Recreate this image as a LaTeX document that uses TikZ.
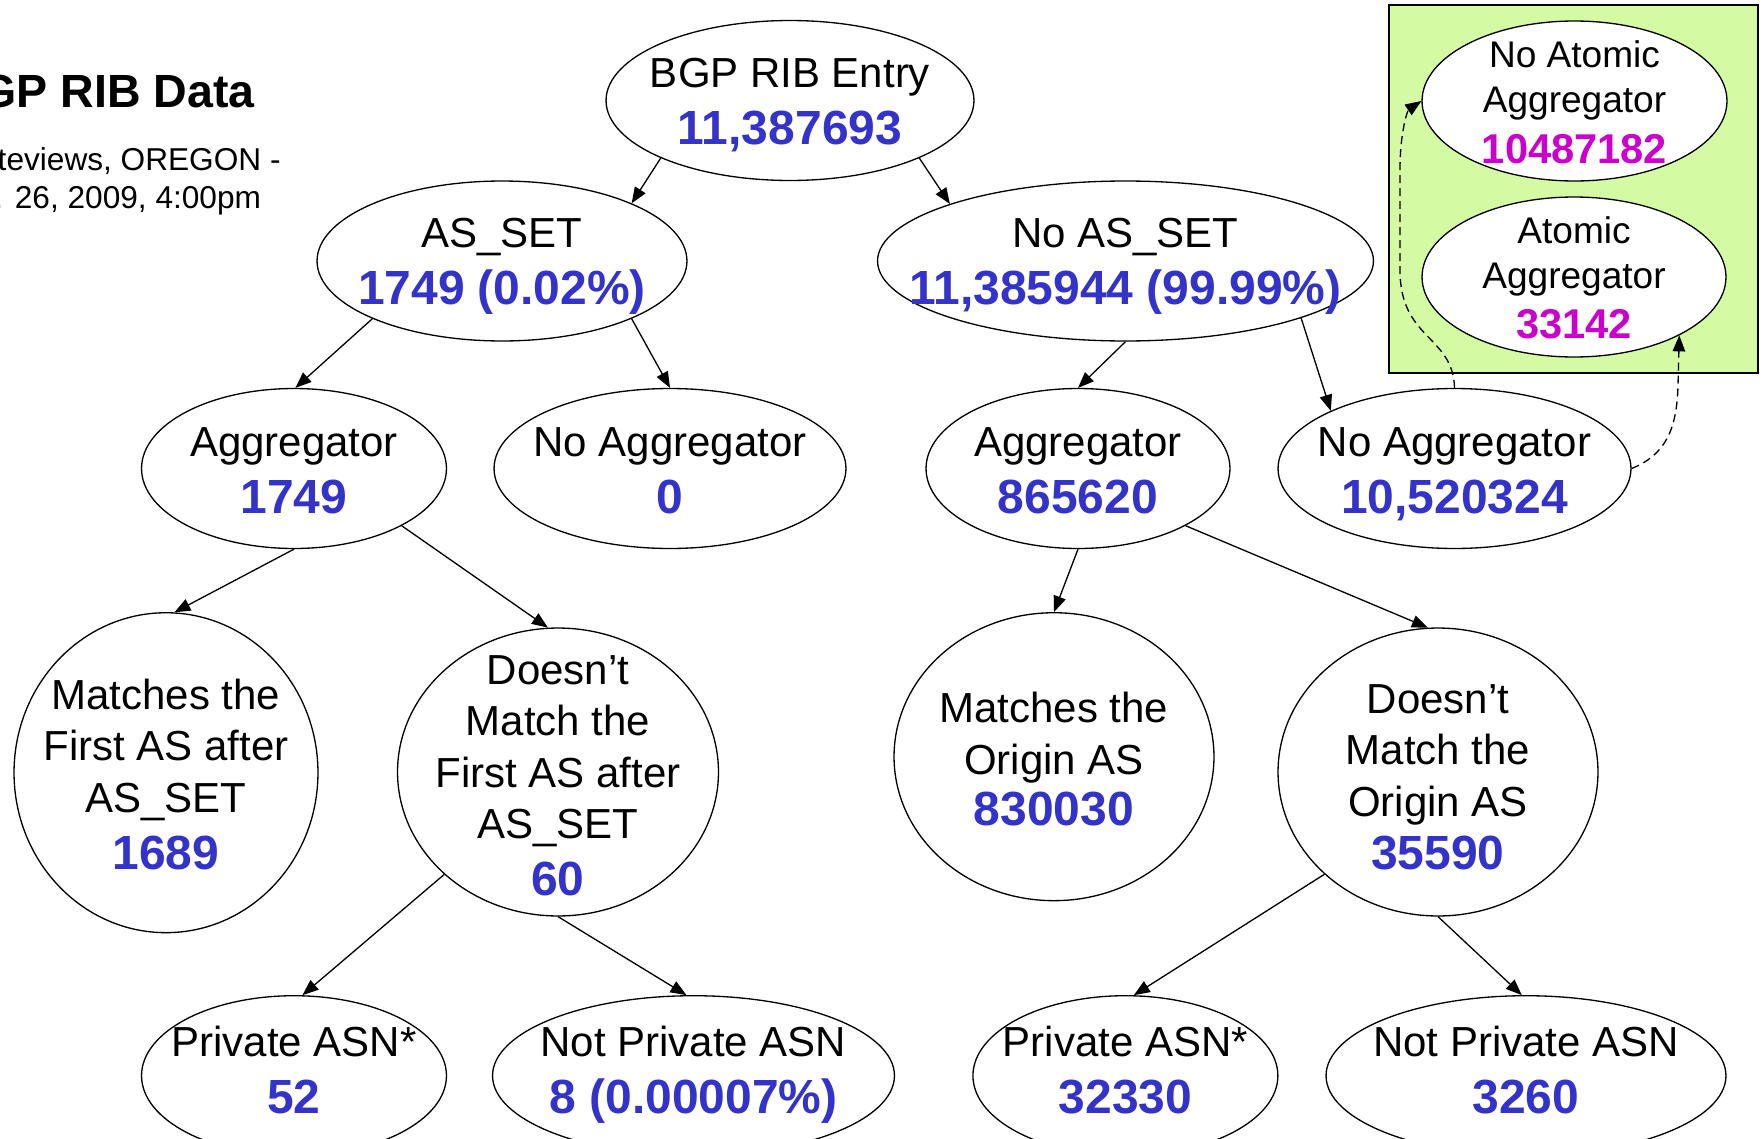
\documentclass[tikz,border=0pt]{standalone}
\usepackage{fontspec}
\setmainfont{Liberation Sans}
\usetikzlibrary{shapes.geometric,arrows.meta}

\definecolor{numblue}{RGB}{51,51,204}
\definecolor{nummag}{RGB}{204,0,204}
\definecolor{boxgreen}{RGB}{212,251,163}

\newcommand{\labfont}{\fontsize{23.9}{29.3}\selectfont}
\newcommand{\boxfont}{\fontsize{21.1}{25.6}\selectfont}
\newcommand{\numline}[2][3.1pt]{\\[#1]{\color{numblue}\bfseries\fontsize{27.3}{32.4}\selectfont #2}}
\newcommand{\boxnum}[1]{\\[3.3pt]{\color{nummag}\bfseries\fontsize{23.7}{28.9}\selectfont #1}}

\tikzstyle{oval} = [ellipse, draw, line width=0.75pt, fill=white, inner sep=0pt, minimum height=3.2cm]
\tikzstyle{txt} = [align=center, inner sep=0pt, font=\labfont, anchor=north]
\tikzstyle{arrow} = [line width=0.75pt, -{Triangle[length=0.32cm,width=0.25cm]}]
\tikzstyle{arrow_dash} = [arrow, dash pattern=on 0.16cm off 0.1cm]

\begin{document}
\begin{tikzpicture}[x=0.02cm, y=-0.02cm]
        \useasboundingbox (0,0) rectangle (1762,1139);
        \clip (0,0) rectangle (1762,1139);

        \node (title) [anchor=base east, inner sep=0pt, font=\fontsize{26.5}{32}\selectfont\bfseries] at (255,107) {BGP RIB Data};
        \node (source) [anchor=base east, inner sep=0pt, font=\fontsize{18}{21.6}\selectfont] at (281,170) {Routeviews, OREGON -};
        \node (date) [anchor=base west, inner sep=0pt, font=\fontsize{18}{21.6}\selectfont] at (-6,208) {. 26, 2009, 4:00pm};

        \draw[fill=boxgreen, line width=1.1pt] (1389,5) rectangle (1758,373);

        \node[oval, minimum width=7.36cm] (bgp) at (790,100.5) {};
        \node[oval, minimum width=7.4cm] (aset) at (502,261) {};
        \node[oval, minimum width=9.92cm] (noaset) at (1125.5,261) {};
        \node[oval, minimum width=6.1cm] (aggL) at (294,468.5) {};
        \node[oval, minimum width=7.04cm] (noaggL) at (670,468.5) {};
        \node[oval, minimum width=6.08cm] (aggR) at (1078,468.5) {};
        \node[oval, minimum width=7.06cm] (noaggR) at (1454.5,468.5) {};
        \node[oval, minimum width=6.08cm, minimum height=6.4cm] (matchL) at (166,772.7) {};
        \node[oval, minimum width=6.42cm, minimum height=5.76cm] (nomatchL) at (558,772) {};
        \node[oval, minimum width=6.4cm, minimum height=5.76cm] (matchR) at (1054,756.7) {};
        \node[oval, minimum width=6.4cm, minimum height=5.76cm] (nomatchR) at (1438,772) {};
        \node[oval, minimum width=6.1cm] (privL) at (294,1075.7) {};
        \node[oval, minimum width=8.04cm] (notprivL) at (693.5,1075.7) {};
        \node[oval, minimum width=6.1cm] (privR) at (1125.4,1075.7) {};
        \node[oval, minimum width=8cm] (notprivR) at (1526,1075.7) {};
        \node[oval, minimum width=6.1cm] (noatomic) at (1574.5,101) {};
        \node[oval, minimum width=6.08cm] (atomic) at (1574,277) {};

        \node[txt] (bgp-t) at (790,57.5) {BGP RIB Entry\numline{11,387693}};
        \node[txt] (aset-t) at (502,218) {AS\_SET\numline{1749 (0.02\%)}};
        \node[txt] (noaset-t) at (1125.5,218) {No AS\_SET\numline{11,385944 (99.99\%)}};
        \node[txt] (aggL-t) at (294,427.5) {Aggregator\numline{1749}};
        \node[txt] (noaggL-t) at (670,427.5) {No Aggregator\numline{0}};
        \node[txt] (aggR-t) at (1078,427.5) {Aggregator\numline{865620}};
        \node[txt] (noaggR-t) at (1454.5,427.5) {No Aggregator\numline{10,520324}};
        \node[txt] (matchL-t) at (166,678.5) {Matches the\\First AS after\\AS\_SET\numline{1689}};
        \node[txt] (nomatchL-t) at (558,655) {Doesn’t\\Match the\\First AS after\\AS\_SET\numline{60}};
        \node[txt] (matchR-t) at (1054,692) {Matches the\\Origin AS\numline[0pt]{830030}};
        \node[txt] (nomatchR-t) at (1438,684) {Doesn’t\\Match the\\Origin AS\numline[0.8pt]{35590}};
        \node[txt] (privL-t) at (294,1025.5) {Private ASN*\numline{52}};
        \node[txt] (notprivL-t) at (693.5,1025.5) {Not Private ASN\numline{8 (0.00007\%)}};
        \node[txt] (privR-t) at (1125.4,1025.5) {Private ASN*\numline{32330}};
        \node[txt] (notprivR-t) at (1526,1025.5) {Not Private ASN\numline{3260}};
        \node[txt, font=\boxfont] (noatomic-t) at (1574.5,40.5) {No Atomic\\Aggregator\boxnum{10487182}};
        \node[txt, font=\boxfont] (atomic-t) at (1574,216) {Atomic\\Aggregator\boxnum{33142}};

        \draw [arrow] (bgp.204) -- (aset.24);
        \draw [arrow] (bgp.336) -- (noaset.162);
        \draw [arrow] (aset.204) -- (aggL.89);
        \draw [arrow] (aset.336) -- (noaggL.90);
        \draw [arrow] (noaset.270) -- (aggR.90);
        \draw [arrow] (noaset.342) -- (noaggR.155);
        \draw [arrow] (aggL.270) -- (matchL.87);
        \draw [arrow] (aggL.332) -- (nomatchL.94);
        \draw [arrow] (aggR.270) -- (matchR.90);
        \draw [arrow] (aggR.332) -- (nomatchR.94);
        \draw [arrow] (nomatchL.222) -- (privL.84);
        \draw [arrow] (nomatchL.270) -- (notprivL.95);
        \draw [arrow] (nomatchR.222) -- (privR.84);
        \draw [arrow] (nomatchR.270) -- (notprivR.93);

        \draw [arrow_dash] (noaggR.north) .. controls (1453,335) and (1400,340) .. (1400,270) -- (1400,170) .. controls (1400,130) and (1408,110) .. (noatomic.west);
        \draw [arrow_dash] (noaggR.east) .. controls (1665,455) and (1677,430) .. (1678,385) -- (atomic.331);
    \end{tikzpicture}
\end{document}
